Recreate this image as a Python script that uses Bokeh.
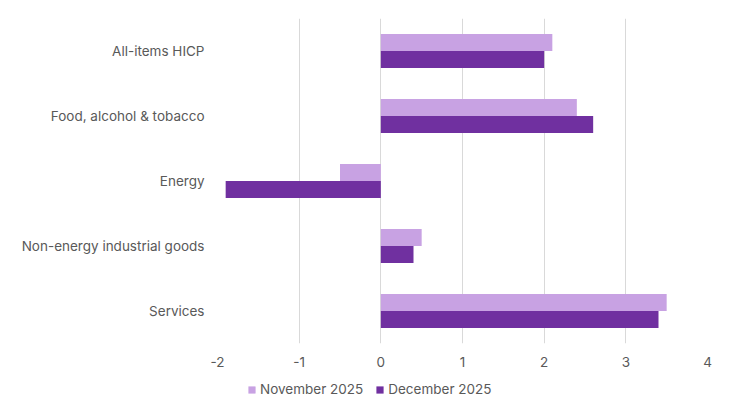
from bokeh.plotting import figure
from bokeh.layouts import column
from bokeh.models import FactorRange, ColumnDataSource, FixedTicker, Range1d, PrintfTickFormatter, Legend, LegendItem
from bokeh.transform import dodge
from bokeh.embed import file_html
from bokeh.resources import INLINE

categories = ["All-items HICP", "Food, alcohol & tobacco", "Energy",
              "Non-energy industrial goods", "Services"]
nov_2025 = [2.1, 2.4, -0.5, 0.5, 3.5]
dec_2025 = [2.0, 2.6, -1.9, 0.4, 3.4]
series_names = ["November 2025", "December 2025"]
x_ticks = [-2, -1, 0, 1, 2, 3, 4]

NOV_COLOR = "#C8A2E3"
DEC_COLOR = "#7030A0"
TEXT_COLOR = "#595959"
FONT = "Inter"
FONT_SIZE = "13.5px"

source = ColumnDataSource(dict(cat=categories, nov=nov_2025, dec=dec_2025))

p = figure(width=723, height=371, output_backend="svg", toolbar_location=None,
           y_range=FactorRange(factors=list(reversed(categories))),
           x_range=Range1d(-2, 4))
p.outline_line_color = None
p.min_border_left = 217
p.min_border_right = 16
p.min_border_top = 18
p.min_border_bottom = 28

p.hbar(y=dodge("cat", 0.13, range=p.y_range), right="nov", left=0, height=0.26,
       source=source, fill_color=NOV_COLOR, line_color=None)
p.hbar(y=dodge("cat", -0.13, range=p.y_range), right="dec", left=0, height=0.26,
       source=source, fill_color=DEC_COLOR, line_color=None)

p.xaxis.ticker = FixedTicker(ticks=x_ticks)
p.xaxis.formatter = PrintfTickFormatter(format="%d")
p.xaxis.axis_line_color = None
p.xaxis.major_tick_line_color = None
p.xaxis.minor_tick_line_color = None
p.xaxis.major_label_standoff = 7
p.xaxis.major_label_text_font = FONT
p.xaxis.major_label_text_font_size = FONT_SIZE
p.xaxis.major_label_text_color = TEXT_COLOR

p.yaxis.axis_line_color = None
p.yaxis.major_tick_line_color = None
p.yaxis.minor_tick_line_color = None
p.yaxis.major_label_standoff = 7
p.yaxis.major_label_text_font = FONT
p.yaxis.major_label_text_font_size = FONT_SIZE
p.yaxis.major_label_text_color = TEXT_COLOR

p.ygrid.grid_line_color = None
p.xgrid.grid_line_color = "#D9D9D9"
p.xgrid.grid_line_width = 1

# legend strip below the chart
lf = figure(width=723, height=26, output_backend="svg", toolbar_location=None,
            y_range=p.y_range, x_range=p.x_range)
lf.outline_line_color = None
lf.axis.visible = False
lf.grid.visible = False
lf.min_border_left = 0
lf.min_border_right = 0
lf.min_border_top = 0
lf.min_border_bottom = 0
ln = lf.hbar(y="cat", right="nov", left=0, height=0.26, source=source,
             fill_color=NOV_COLOR, line_color=None, visible=False)
ld = lf.hbar(y="cat", right="dec", left=0, height=0.26, source=source,
             fill_color=DEC_COLOR, line_color=None, visible=False)

legend = Legend(items=[LegendItem(label=series_names[0], renderers=[ln]),
                       LegendItem(label=series_names[1], renderers=[ld])],
                orientation="horizontal", location=(30, 0))
legend.border_line_color = None
legend.background_fill_alpha = 0
legend.label_text_font = FONT
legend.label_text_font_size = FONT_SIZE
legend.label_text_color = TEXT_COLOR
legend.glyph_width = 9
legend.glyph_height = 9
legend.label_standoff = 4
legend.spacing = 12
legend.padding = 0
legend.margin = 0
legend.inactive_fill_alpha = 0
lf.add_layout(legend, "center")

layout = column(p, lf, spacing=0)
open("out.html", "w").write(file_html(layout, INLINE))
